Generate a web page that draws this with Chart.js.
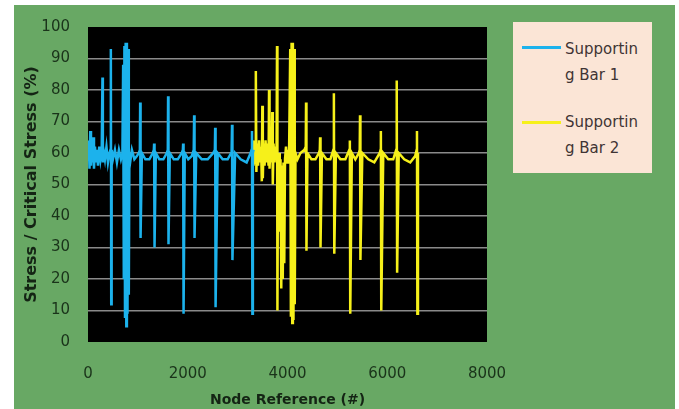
<!DOCTYPE html>
<html>
<head>
<meta charset="utf-8">
<script src="https://cdn.jsdelivr.net/npm/chart.js@4/dist/chart.umd.min.js"></script>
<style>
  body { margin: 0; background: #fff; }
  #wrap { position: relative; width: 679px; height: 409px; overflow: hidden; }
  .panel { position: absolute; left: 14px; top: 5px; width: 661px; height: 404px; background: #68a864; }
  canvas { position: absolute; left: 0; top: 0; }
  .legend { position: absolute; left: 513px; top: 22px; width: 139px; height: 151px;
    background: #fbe5d6; font: 15px "DejaVu Sans", sans-serif; color: #3f3434; }
  .swatch { position: absolute; left: 9px; width: 39px; height: 3px; }
  .label { position: absolute; left: 52px; line-height: 26px; }
</style>
</head>
<body>
<div id="wrap">
  <div class="panel"></div>
  <canvas id="chart" width="679" height="409"></canvas>
  <div class="legend">
    <div class="swatch" style="top:24px;background:#1cb2ec"></div>
    <div class="label" style="top:14px">Supportin<br>g Bar 1</div>
    <div class="swatch" style="top:99px;background:#f6f01a"></div>
    <div class="label" style="top:87px">Supportin<br>g Bar 2</div>
  </div>
</div>
<script>
//Supporting Bar 1 - node reference / stress ratio
const bar1X = [
  0, 15, 30, 45, 60, 75, 90, 105, 120, 140, 160, 180, 200, 225, 250, 275,
  290, 298, 310, 340, 370, 400, 430, 450, 458, 466, 474, 500, 540, 580, 620, 660,
  690, 705, 718, 730, 742, 755, 768, 780, 792, 805, 818, 830, 845, 880, 930, 980,
  1020, 1040, 1046, 1054, 1080, 1150, 1230, 1300, 1320, 1326, 1334, 1360, 1430, 1510, 1580, 1600,
  1606, 1614, 1640, 1720, 1800, 1880, 1902, 1908, 1916, 1940, 2010, 2080, 2120, 2128, 2136, 2170,
  2280, 2400, 2510, 2544, 2550, 2558, 2600, 2700, 2800, 2870, 2880, 2888, 2896, 2950, 3060, 3180,
  3260, 3280, 3288, 3296, 3306, 3320
];
const bar1Y = [
  58, 64, 55, 67, 56, 63, 57, 65, 55, 62, 57, 61, 56, 62, 58, 61,
  84, 57, 61, 58, 62, 57, 60, 61, 93, 12, 61, 58, 61, 57, 61, 58,
  60, 88, 20, 94, 8, 95, 5, 95, 9, 93, 15, 60, 57, 61, 58, 59,
  60, 61, 76, 33, 60, 58, 58, 60, 61, 63, 30, 60, 58, 58, 60, 61,
  78, 31, 60, 58, 58, 60, 61, 63, 9, 60, 58, 59, 61, 72, 33, 60,
  58, 58, 60, 61, 68, 11, 60, 58, 58, 60, 61, 69, 26, 60, 58, 57,
  60, 61, 67, 9, 60, 61
];

//Supporting Bar 2
const bar2X = [
  3300, 3310, 3320, 3335, 3350, 3362, 3368, 3376, 3390, 3410, 3430, 3450, 3470, 3485, 3495, 3505,
  3520, 3540, 3560, 3580, 3600, 3620, 3630, 3640, 3660, 3680, 3695, 3705, 3720, 3740, 3760, 3780,
  3790, 3798, 3810, 3830, 3845, 3860, 3875, 3890, 3905, 3920, 3935, 3950, 3970, 3990, 4010, 4030,
  4055, 4068, 4082, 4095, 4108, 4120, 4132, 4145, 4160, 4200, 4260, 4340, 4366, 4372, 4380, 4400,
  4480, 4560, 4630, 4648, 4654, 4662, 4690, 4780, 4860, 4920, 4930, 4938, 4970, 5060, 5160, 5240,
  5250, 5258, 5290, 5360, 5430, 5448, 5454, 5462, 5500, 5620, 5740, 5850, 5866, 5872, 5880, 5920,
  6020, 6120, 6180, 6190, 6198, 6230, 6340, 6460, 6560, 6590, 6596, 6604, 6616
];
const bar2Y = [
  60, 64, 56, 63, 57, 62, 86, 54, 63, 56, 64, 57, 62, 51, 75, 52,
  63, 56, 64, 57, 63, 56, 80, 55, 64, 57, 73, 50, 63, 57, 62, 59,
  94, 10, 58, 60, 35, 58, 17, 56, 20, 57, 25, 58, 62, 57, 61, 58,
  93, 8, 95, 6, 95, 7, 93, 12, 60, 58, 60, 61, 62, 76, 29, 60,
  58, 58, 60, 61, 65, 30, 60, 58, 58, 61, 79, 28, 60, 58, 58, 61,
  64, 9, 60, 58, 60, 61, 72, 26, 60, 58, 57, 60, 61, 67, 10, 60,
  58, 58, 61, 83, 22, 60, 58, 57, 59, 61, 67, 9, 60
];

const xTicks = [0, 2000, 4000, 6000, 8000];
const yTicks = [0, 10, 20, 30, 40, 50, 60, 70, 80, 90, 100];

const toPoints = (xs, ys) => xs.map((x, i) => ({ x: x, y: ys[i] }));

//black plot area
const plotBackground = {
  id: "plotBackground",
  beforeDraw(chart) {
    const { ctx, chartArea } = chart;
    ctx.save();
    ctx.fillStyle = "#000";
    ctx.fillRect(chartArea.left, chartArea.top, chartArea.width, chartArea.height);
    ctx.restore();
  },
};

const tickFont = { family: "'DejaVu Sans', sans-serif", size: 15 };
const xTitleFont = { family: "'DejaVu Sans', sans-serif", size: 14, weight: "bold" };
const yTitleFont = { family: "'DejaVu Sans', sans-serif", size: 16, weight: "bold" };

new Chart(document.getElementById("chart"), {
  type: "scatter",
  data: {
    datasets: [
      {
        label: "Supporting Bar 1",
        data: toPoints(bar1X, bar1Y),
        showLine: true,
        borderColor: "#1cb2ec",
        borderWidth: 2.5,
        pointRadius: 0,
      },
      {
        label: "Supporting Bar 2",
        data: toPoints(bar2X, bar2Y),
        showLine: true,
        borderColor: "#f6f01a",
        borderWidth: 2.5,
        pointRadius: 0,
      },
    ],
  },
  options: {
    responsive: false,
    animation: false,
    layout: { padding: { left: 22, right: 192, top: 24, bottom: 0 } },
    scales: {
      x: {
        type: "linear",
        min: xTicks[0],
        max: xTicks[xTicks.length - 1],
        afterBuildTicks: (scale) => { scale.ticks = xTicks.map((v) => ({ value: v })); },
        afterFit: (scale) => { scale.height = 67; },
        grid: { display: false, drawTicks: false },
        border: { display: false },
        ticks: { color: "#1a331a", font: tickFont, padding: 23, callback: (v) => v },
        title: { display: true, text: "Node Reference (#)", color: "#142414", font: xTitleFont, padding: { top: 0, bottom: 0 } },
      },
      y: {
        min: yTicks[0],
        max: yTicks[yTicks.length - 1],
        afterBuildTicks: (scale) => { scale.ticks = yTicks.map((v) => ({ value: v })); },
        afterFit: (scale) => { scale.width = 66; },
        grid: {
          drawTicks: false,
          lineWidth: 1.5,
          color: (c) => (c.tick && c.tick.value > 0 && c.tick.value < 100 ? "#8a8a8a" : "rgba(0,0,0,0)"),
        },
        border: { display: false },
        ticks: { color: "#1a331a", font: tickFont, padding: 18, autoSkip: false },
        title: { display: true, text: "Stress / Critical Stress (%)", color: "#142414", font: yTitleFont, padding: { top: 0, bottom: 0 } },
      },
    },
    plugins: {
      legend: { display: false },
      tooltip: { enabled: false },
    },
  },
  plugins: [plotBackground],
});
</script>
</body>
</html>
